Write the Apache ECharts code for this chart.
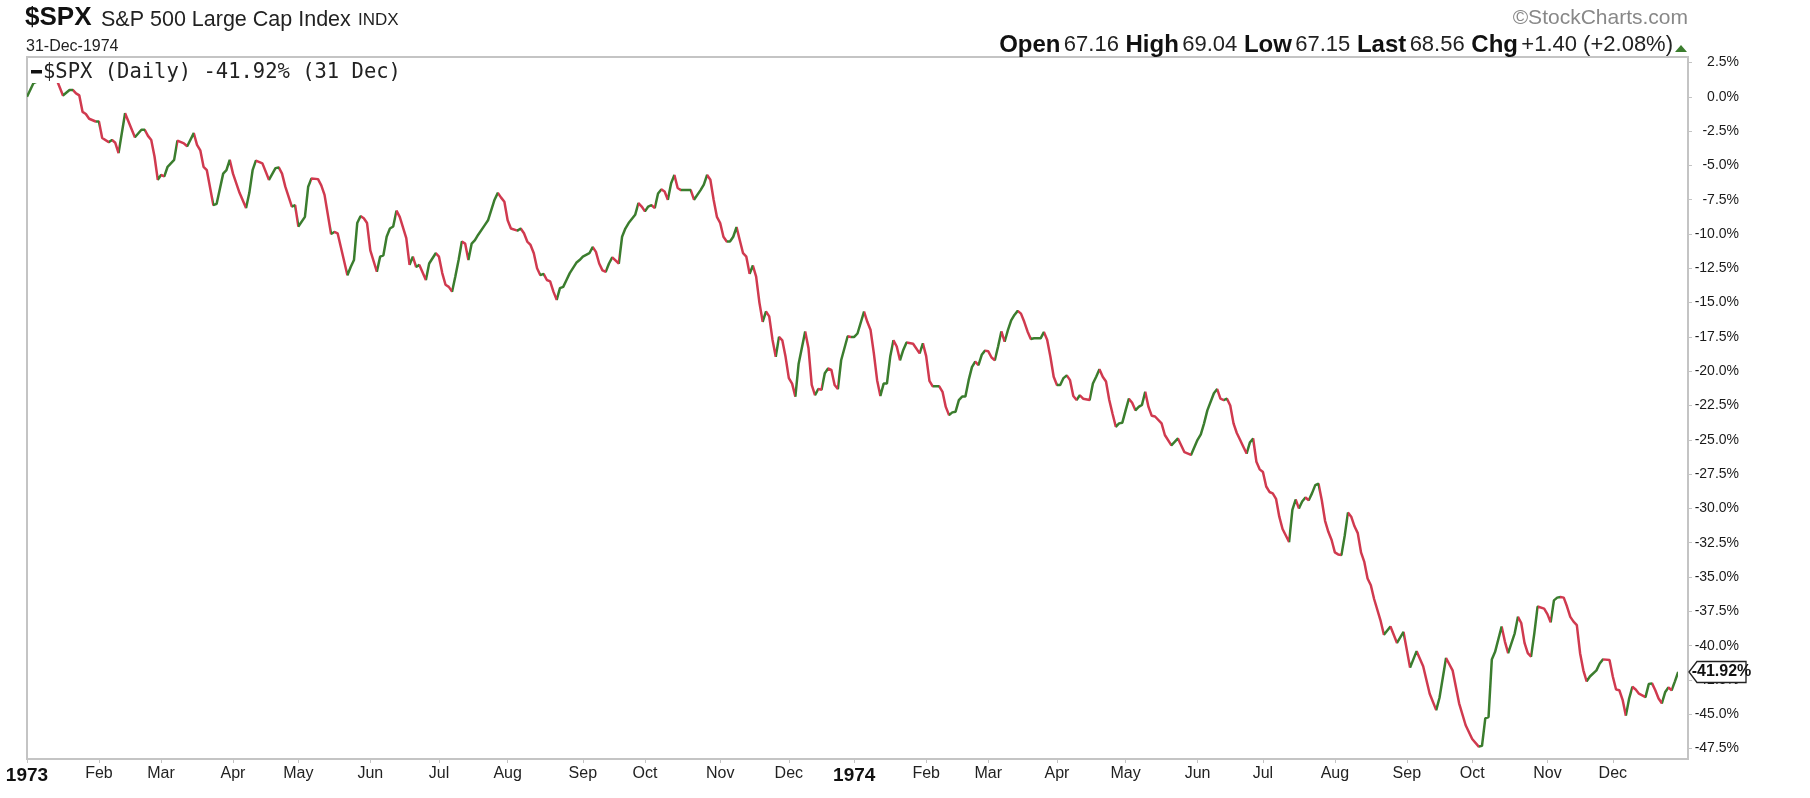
<!DOCTYPE html>
<html>
<head>
<meta charset="utf-8">
<script src="https://cdn.jsdelivr.net/npm/echarts@6/dist/echarts.min.js"></script>
<style>
html, body { margin: 0; padding: 0; background: #fff; }
#chart { width: 1810px; height: 798px; }
</style>
</head>
<body>
<div id="chart"></div>
<script>
// market holidays, used to build the trading-day axis (weekends are skipped too)
var holidays = ['1973-01-01', '1973-01-25', '1973-02-19', '1973-04-20', '1973-05-28', '1973-07-04',
    '1973-09-03', '1973-11-22', '1973-12-25', '1974-01-01', '1974-02-18', '1974-04-12', '1974-05-27',
    '1974-07-04', '1974-09-02', '1974-11-28', '1974-12-25', '1975-01-01'];
var monthNames = ['Jan', 'Feb', 'Mar', 'Apr', 'May', 'Jun', 'Jul', 'Aug', 'Sep', 'Oct', 'Nov', 'Dec'];
var yTicks = [2.5, 0, -2.5, -5, -7.5, -10, -12.5, -15, -17.5, -20, -22.5, -25, -27.5, -30,
    -32.5, -35, -37.5, -40, -42.5, -45, -47.5];

// [trading day number, % change since 29-Dec-1972]
var pts1973 = [
    [0, 0], [2, 1.0], [5, 1.3], [8, 1.9], [9, 1.3], [11, 0.1], [13, 0.5], [14, 0.5], [15, 0.25], [16, 0.1],
    [17, -1.1], [18, -1.25], [19, -1.6], [21, -1.8], [22, -1.8], [23, -3.0], [25, -3.3], [26, -3.15],
    [27, -3.35], [28, -4.1], [30, -1.2], [33, -2.95], [35, -2.4], [36, -2.4], [37, -2.85], [38, -3.15],
    [39, -4.35], [40, -6.05], [41, -5.7], [42, -5.8], [43, -5.1], [45, -4.6], [46, -3.2], [48, -3.4],
    [49, -3.6], [51, -2.65], [52, -3.5], [53, -3.9], [54, -5.1], [55, -5.35], [57, -7.9], [58, -7.8],
    [60, -5.6], [61, -5.35], [62, -4.6], [63, -5.6], [65, -7.0], [67, -8.1], [68, -7.0], [69, -5.35],
    [70, -4.65], [72, -4.85], [74, -6.05], [76, -5.2], [77, -5.15], [78, -5.6], [79, -6.55], [81, -8.0],
    [82, -7.9], [83, -9.45], [85, -8.75], [86, -6.55], [87, -5.95], [89, -6.0], [90, -6.45], [91, -7.15],
    [93, -10.0], [94, -9.85], [95, -9.95], [98, -13.0], [99, -12.4], [100, -11.9], [101, -9.2], [102, -8.7],
    [103, -8.85], [104, -9.2], [105, -11.2], [107, -12.75], [108, -11.65], [109, -11.55], [110, -10.2],
    [111, -9.6], [112, -9.45], [113, -8.3], [114, -8.75], [116, -10.3], [117, -12.25], [118, -11.65],
    [119, -12.4], [120, -12.25], [122, -13.35], [123, -12.15], [125, -11.4], [126, -11.65], [127, -12.85],
    [128, -13.7], [129, -13.85], [130, -14.2], [131, -13.1], [132, -11.9], [133, -10.55], [134, -10.7],
    [135, -11.9], [136, -10.7], [137, -10.45], [138, -10.05], [140, -9.35], [141, -9.0], [143, -7.5],
    [144, -7.0], [145, -7.35], [146, -7.65], [147, -9.0], [148, -9.6], [150, -9.75], [151, -9.6],
    [152, -9.95], [153, -10.55], [154, -10.8], [155, -11.4], [156, -12.5], [157, -13.0], [158, -12.9],
    [159, -13.35], [160, -13.45], [161, -14.2], [162, -14.8], [163, -13.95], [164, -13.85], [165, -13.35],
    [166, -12.85], [168, -12.1], [169, -11.9], [170, -11.65], [172, -11.4], [173, -10.95], [174, -11.3],
    [175, -12.15], [176, -12.65], [177, -12.75], [178, -12.15], [179, -11.7], [181, -12.15], [182, -10.2],
    [183, -9.6], [184, -9.2], [186, -8.6], [187, -7.75], [188, -8.0], [189, -8.35], [190, -8.0], [191, -7.9],
    [192, -8.1], [193, -7.05], [194, -6.75], [195, -6.9], [196, -7.5], [197, -6.3], [198, -5.7], [199, -6.65],
    [200, -6.8], [202, -6.8], [203, -6.8], [204, -7.5], [206, -6.8], [207, -6.4], [208, -5.7], [209, -6.05],
    [210, -7.5], [211, -8.75], [212, -9.2], [213, -10.2], [214, -10.55], [215, -10.55], [216, -10.2],
    [217, -9.5], [218, -10.45], [219, -11.4], [220, -11.65], [221, -12.9], [222, -12.3], [223, -13.1],
    [224, -15.0], [225, -16.4], [226, -15.65], [227, -16.0], [228, -17.7], [229, -18.95], [230, -17.5],
    [231, -17.75], [232, -18.95], [233, -20.5], [234, -20.9], [235, -21.85], [236, -19.45], [238, -17.1],
    [239, -18.3], [240, -21.0], [241, -21.75], [242, -21.3], [243, -21.35], [244, -20.15], [245, -19.8],
    [246, -19.9], [247, -21.0], [248, -21.3], [249, -19.2], [251, -17.45], [252, -17.5]
];
var pts1974 = [
    [253, -17.5], [254, -17.25], [256, -15.65], [257, -16.4], [258, -17.0], [259, -18.7], [260, -20.65],
    [261, -21.8], [262, -20.9], [263, -20.9], [264, -18.95], [265, -17.75], [266, -18.2], [267, -19.2],
    [268, -18.45], [269, -17.9], [271, -18.0], [273, -18.7], [274, -17.97], [275, -18.9], [276, -20.7],
    [277, -21.1], [279, -21.1], [280, -21.5], [281, -22.6], [282, -23.2], [283, -23.0], [284, -22.95],
    [285, -22.1], [286, -21.85], [287, -21.85], [288, -20.65], [289, -19.7], [290, -19.3], [291, -19.55],
    [292, -18.8], [293, -18.5], [294, -18.55], [295, -19.0], [296, -19.2], [297, -18.2], [298, -17.1],
    [299, -17.85], [300, -17.0], [301, -16.3], [302, -15.9], [303, -15.6], [304, -15.8], [305, -16.4],
    [306, -17.1], [307, -17.65], [308, -17.6], [310, -17.6], [311, -17.15], [312, -17.7], [313, -18.95],
    [314, -20.4], [315, -21.0], [316, -21.0], [317, -20.5], [318, -20.3], [319, -20.65], [320, -21.8],
    [321, -22.1], [322, -21.75], [323, -22.0], [325, -22.1], [326, -20.9], [327, -20.4], [328, -19.85],
    [329, -20.4], [330, -20.75], [331, -22.1], [332, -23.1], [333, -24.05], [334, -23.8], [335, -23.75],
    [336, -22.85], [337, -22.0], [338, -22.3], [339, -22.85], [340, -22.6], [341, -22.45], [342, -21.5],
    [343, -22.6], [344, -23.25], [345, -23.3], [347, -23.8], [348, -24.65], [350, -25.4], [352, -24.9],
    [354, -25.9], [356, -26.1], [358, -25.0], [359, -24.6], [360, -23.8], [361, -22.85], [363, -21.6],
    [364, -21.3], [365, -22.0], [366, -22.1], [367, -22.0], [368, -22.5], [369, -23.8], [370, -24.5],
    [371, -25.0], [372, -25.5], [373, -26.0], [374, -25.2], [375, -24.9], [376, -26.6], [377, -27.15],
    [378, -27.35], [379, -28.4], [380, -28.8], [381, -28.9], [382, -29.3], [383, -30.6], [384, -31.5],
    [386, -32.45], [387, -30.1], [388, -29.35], [389, -30.0], [390, -29.5], [391, -29.2], [392, -29.4],
    [393, -28.9], [394, -28.3], [395, -28.2], [396, -29.4], [397, -30.9], [398, -31.7], [399, -32.3],
    [400, -33.2], [401, -33.35], [402, -33.4], [403, -32.0], [404, -30.3], [405, -30.6], [406, -31.3],
    [407, -31.8], [408, -33.2], [409, -33.9], [410, -35.1], [411, -35.6], [412, -36.6], [414, -38.2],
    [415, -39.2], [417, -38.6], [419, -39.8], [421, -39.0], [423, -41.6], [425, -40.4], [427, -41.5],
    [429, -43.5], [431, -44.7], [432, -43.8], [434, -40.9], [436, -41.8], [438, -44.2], [440, -45.8],
    [442, -46.8], [444, -47.36], [445, -47.3], [446, -45.3], [447, -45.2], [448, -41.0], [449, -40.45],
    [451, -38.6], [452, -39.7], [453, -40.55], [455, -39.1], [456, -37.9], [457, -38.35], [458, -39.8],
    [459, -40.55], [460, -40.8], [461, -39.1], [462, -37.15], [464, -37.3], [465, -37.7], [466, -38.3],
    [467, -36.7], [468, -36.5], [469, -36.45], [470, -36.5], [471, -37.15], [472, -37.9], [473, -38.25],
    [474, -38.5], [475, -40.55], [476, -41.8], [477, -42.6], [478, -42.25], [480, -41.8], [481, -41.3],
    [482, -41.0], [484, -41.05], [485, -42.25], [486, -43.2], [487, -43.25], [488, -43.95], [489, -45.1],
    [490, -43.85], [491, -43.0], [492, -43.2], [493, -43.5], [495, -43.75], [496, -42.8], [497, -42.75],
    [498, -43.25], [499, -43.85], [500, -44.2], [501, -43.4], [502, -43.05], [503, -43.25], [504, -42.6],
    [505, -41.92]
];
var lastValue = -41.92;
var LAST_DAY = 505;

var UP = '#3b7d2e';
var DOWN = '#d03a4f';
var GREY = '#c4c4c4';
var FONT = "'Liberation Sans', Arial, sans-serif";
var MONO = "'DejaVu Sans Mono', monospace";

var tradingDays = [];
for (var t = Date.UTC(1972, 11, 29); t <= Date.UTC(1975, 0, 6); t += 86400000) {
    var d = new Date(t);
    var s = d.toISOString().slice(0, 10);
    if (d.getUTCDay() !== 0 && d.getUTCDay() !== 6 && holidays.indexOf(s) < 0) {
        tradingDays.push(s);
    }
}

function isMonthStart(i) {
    if (i === 0) return true;
    if (i === 1 || i > LAST_DAY) return false;
    return tradingDays[i].slice(5, 7) !== tradingDays[i - 1].slice(5, 7);
}

var points = pts1973.concat(pts1974);

// colour each segment green when rising, red when falling
var pieces = [];
for (var i = 0; i < points.length - 1; i++) {
    var piece = { lte: points[i + 1][0], color: points[i + 1][1] >= points[i][1] ? UP : DOWN };
    if (i === 0) piece.gte = points[i][0]; else piece.gt = points[i][0];
    pieces.push(piece);
}

var myChart = echarts.init(document.getElementById('chart'));

var option = {
    animation: false,
    backgroundColor: '#fff',
    grid: {
        left: 27,
        right: 122,
        top: 57,
        bottom: 39,
        show: true,
        borderColor: GREY,
        borderWidth: 2,
        backgroundColor: '#fff'
    },
    xAxis: {
        type: 'category',
        boundaryGap: false,
        data: tradingDays,
        axisLine: { show: false, onZero: false },
        axisTick: {
            show: true,
            length: 4,
            interval: function (index) { return isMonthStart(index); },
            lineStyle: { color: GREY, width: 1 }
        },
        axisLabel: {
            interval: function (index) { return isMonthStart(index); },
            margin: 7,
            color: '#222',
            fontFamily: FONT,
            fontSize: 16,
            formatter: function (value, index) {
                if (index === 0) return '{y|' + tradingDays[1].slice(0, 4) + '}';
                var m = parseInt(value.slice(5, 7), 10);
                if (m === 1) return '{y|' + value.slice(0, 4) + '}';
                return monthNames[m - 1];
            },
            rich: {
                y: { fontWeight: 'bold', fontSize: 19, fontFamily: FONT, color: '#111' }
            }
        },
        splitLine: { show: false }
    },
    yAxis: {
        type: 'value',
        position: 'right',
        min: -48.26,
        max: 2.9,
        axisLine: { show: false },
        axisTick: {
            show: true,
            length: 4,
            customValues: yTicks,
            lineStyle: { color: GREY, width: 1 }
        },
        axisLabel: {
            customValues: yTicks,
            margin: 51,
            align: 'right',
            color: '#1a1a1a',
            fontFamily: FONT,
            fontSize: 14,
            formatter: function (v) { return v.toFixed(1) + '%'; }
        },
        splitLine: { show: false }
    },
    visualMap: {
        show: false,
        type: 'piecewise',
        seriesIndex: 0,
        dimension: 0,
        pieces: pieces
    },
    series: [{
        name: '$SPX',
        type: 'line',
        data: points,
        showSymbol: false,
        smooth: false,
        lineStyle: { width: 2.5 },
        z: 2
    }]
};
myChart.setOption(option);

// header, legend and last-value tag
var yLast = myChart.convertToPixel({ yAxisIndex: 0 }, lastValue);
var plotRight = 1810 - 122;
myChart.setOption({
    graphic: [
        { type: 'text', left: 25, top: 5, z: 100,
          style: { text: '$SPX', font: 'bold 26px ' + FONT, fill: '#111' } },
        { type: 'text', left: 101, top: 9, z: 100,
          style: { text: 'S&P 500 Large Cap Index', font: '21.5px ' + FONT, fill: '#222' } },
        { type: 'text', left: 358, top: 12, z: 100,
          style: { text: 'INDX', font: '17px ' + FONT, fill: '#222' } },
        { type: 'text', left: 26, top: 39, z: 100,
          style: { text: '31-Dec-1974', font: '16px ' + FONT, fill: '#222' } },
        { type: 'text', right: 122, top: 8, z: 100,
          style: { text: '\u00a9StockCharts.com', font: '21px ' + FONT, fill: '#888' } },
        { type: 'text', right: 137, top: 33, z: 100,
          style: {
              text: '{b|Open} {n|67.16}  {b|High} {n|69.04}  {b|Low} {n|67.15}  {b|Last} {n|68.56}  {b|Chg} {n|+1.40 (+2.08%)}',
              rich: {
                  b: { font: 'bold 24px ' + FONT, fill: '#111' },
                  n: { font: '22px ' + FONT, fill: '#222' }
              }
          } },
        { type: 'polygon', z: 100,
          shape: { points: [[1675, 52], [1687, 52], [1681, 45]] },
          style: { fill: '#3b7d2e' } },
        // legend box covers the line underneath, as in the reference
        { type: 'rect', z: 100,
          shape: { x: 29, y: 59, width: 380, height: 24 },
          style: { fill: '#fff' } },
        { type: 'rect', z: 101,
          shape: { x: 31, y: 70, width: 11, height: 3.5 },
          style: { fill: '#111' } },
        { type: 'text', left: 43, top: 62, z: 101,
          style: { text: '$SPX (Daily) -41.92% (31 Dec)', font: '20.5px ' + MONO, fill: '#222' } },
        { type: 'polygon', z: 100,
          shape: { points: [[plotRight + 1, yLast], [plotRight + 9, yLast - 10.5], [plotRight + 58, yLast - 10.5],
              [plotRight + 58, yLast + 10.5], [plotRight + 9, yLast + 10.5]] },
          style: { fill: '#fff', stroke: '#222', lineWidth: 1.3 } },
        { type: 'text', z: 101, x: plotRight + 33.5, y: yLast,
          style: { text: '-41.92%', font: 'bold 16px ' + FONT, fill: '#111', align: 'center', verticalAlign: 'middle' } }
    ]
});
</script>
</body>
</html>
